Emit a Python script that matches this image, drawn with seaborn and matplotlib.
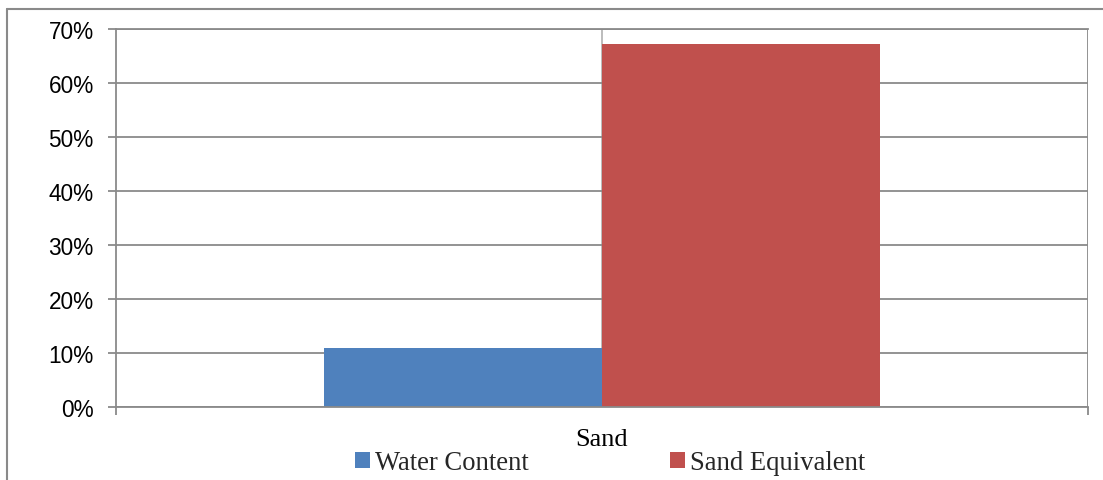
import matplotlib
matplotlib.use("Agg")
import matplotlib.pyplot as plt
from matplotlib.lines import Line2D
from matplotlib.patches import Patch
from matplotlib.ticker import PercentFormatter, FixedLocator
import seaborn as sns
import pandas as pd

categories = ["Sand"]
series = ["Water Content", "Sand Equivalent"]
values = [0.11, 0.672]
y_ticks = [0.0, 0.1, 0.2, 0.3, 0.4, 0.5, 0.6, 0.7]
colors = ["#4F81BD", "#C0504D"]

df = pd.DataFrame({
    "category": [categories[0]] * len(series),
    "series": series,
    "value": values,
})

sns.set_theme(style="white")
plt.rcParams["font.family"] = ["Liberation Sans", "DejaVu Sans"]

GRID = "#8a8a8a"

fig = plt.figure(figsize=(11.03, 4.81), dpi=100)
ax = fig.add_axes([116 / 1103, 73 / 481, 972 / 1103, 378 / 481])

ax.axvline(0, color="#b0b0b0", lw=1.2, zorder=0)
sns.barplot(data=df, x="category", y="value", hue="series", palette=colors,
            width=0.572, gap=0, saturation=1, linewidth=0, legend=False,
            ax=ax, zorder=2)

ax.set_xlim(-0.5, 0.5)
ax.set_ylim(0, 0.7)
ax.yaxis.set_major_locator(FixedLocator(y_ticks))
ax.yaxis.set_major_formatter(PercentFormatter(1.0, decimals=0))
ax.grid(axis="y", color=GRID, lw=1.3, zorder=1)
ax.set_axisbelow(True)
ax.set_xlabel("")
ax.set_ylabel("")

for side in ["left", "right", "bottom", "top"]:
    ax.spines[side].set_color(GRID)
    ax.spines[side].set_linewidth(1.3)
ax.spines["right"].set_visible(False)
ax.axvline(0.5, color=GRID, lw=1.3, zorder=1)

ax.tick_params(axis="y", which="both", left=True, length=6, width=1.3,
               color=GRID, labelsize=16.3, pad=10, labelcolor="black")
ax.set_xticks([-0.5, 0.5])
ax.set_xticklabels(["", ""])
ax.tick_params(axis="x", bottom=True, length=6, width=1.3, color=GRID)
ax.text(0, -(440 - 408) / 378, categories[0], transform=ax.get_xaxis_transform(),
        ha="center", va="center", fontsize=19, family="Liberation Serif",
        color="black")

handles = [Patch(facecolor=c, edgecolor="none") for c in colors]
leg = fig.legend(handles, series, loc="center", bbox_to_anchor=(610 / 1103, 1 - 464 / 481),
                 ncol=2, frameon=False, handlelength=0.55, handleheight=0.55,
                 handletextpad=0.2, columnspacing=5.3,
                 prop={"family": "Liberation Serif", "size": 19.2})

# outer chart frame
fig.add_artist(Line2D([7 / 1103, 7 / 1103], [0, 1 - 10 / 481],
                      transform=fig.transFigure, color=GRID, lw=1.5))
fig.add_artist(Line2D([7 / 1103, 1], [1 - 10 / 481, 1 - 10 / 481],
                      transform=fig.transFigure, color=GRID, lw=1.5))

fig.savefig("out.png", dpi=100, facecolor="white")
